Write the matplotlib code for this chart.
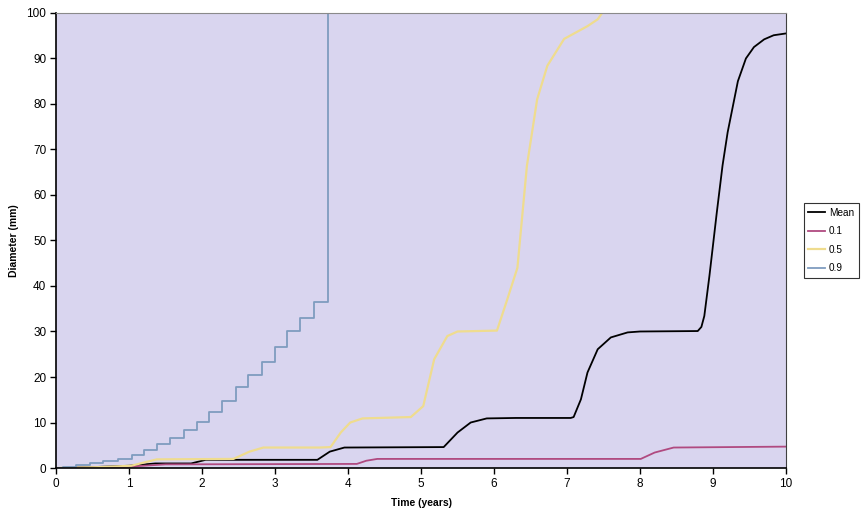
import matplotlib.pyplot as plt

# values (time in years, diameter in mm)
mean_t = [0, 0.5, 1.0, 1.36, 1.85, 2.05, 3.58, 3.75, 3.95, 5.31, 5.5, 5.68, 5.9, 6.3,
          7.05, 7.09, 7.19, 7.28, 7.42, 7.6, 7.83, 8.0, 8.79, 8.84, 8.88, 8.95, 9.05,
          9.13, 9.2, 9.34, 9.45, 9.56, 9.7, 9.83, 10.0]
mean_d = [0, 0.2, 0.5, 1.0, 1.0, 1.8, 1.8, 3.6, 4.5, 4.6, 7.8, 10.0, 10.9, 11.0,
          11.0, 11.2, 15.1, 21.0, 26.1, 28.7, 29.8, 30.0, 30.1, 31.0, 33.4, 42.2, 56.0,
          66.5, 73.8, 85.0, 90.0, 92.5, 94.2, 95.1, 95.5]

q10_t = [0, 0.5, 1.0, 1.5, 4.12, 4.25, 4.4, 8.01, 8.2, 8.46, 10.0]
q10_d = [0, 0.1, 0.3, 0.8, 0.9, 1.6, 2.0, 2.0, 3.4, 4.5, 4.7]

q50_t = [0, 0.6, 1.03, 1.38, 2.43, 2.65, 2.84, 3.62, 3.76, 3.9, 4.03, 4.2, 4.86, 5.03,
         5.18, 5.36, 5.5, 6.04, 6.18, 6.32, 6.45, 6.59, 6.73, 6.96, 7.28, 7.42, 7.48]
q50_d = [0, 0.2, 0.5, 1.9, 2.0, 3.6, 4.5, 4.5, 4.6, 7.8, 10.0, 10.9, 11.2, 13.6,
         23.9, 29.0, 30.0, 30.2, 37.0, 44.0, 66.4, 81.0, 88.4, 94.3, 97.1, 98.6, 100]

q90_t = [0, 0.1, 0.28, 0.47, 0.65, 0.85, 1.04, 1.2, 1.38, 1.56, 1.75, 1.93, 2.09,
         2.27, 2.47, 2.63, 2.82, 3.0, 3.16, 3.34, 3.54, 3.70, 3.72]
q90_d = [0, 0.2, 0.6, 1.0, 1.5, 2.0, 2.9, 3.9, 5.2, 6.5, 8.4, 10.1, 12.4,
         14.7, 17.7, 20.5, 23.4, 26.5, 30.0, 33.0, 36.5, 36.5, 100]

plt.rcParams['font.family'] = ['Liberation Sans', 'DejaVu Sans']

fig = plt.figure(figsize=(8.66, 5.18), dpi=100)
ax = fig.add_axes([0.0647, 0.0965, 0.843, 0.8785])
ax.set_facecolor('#d9d5ef')

ax.plot(mean_t, mean_d, color='black', lw=1.3, label='Mean')
ax.plot(q10_t, q10_d, color='#b04a80', lw=1.3, label='0.1')
ax.plot(q50_t, q50_d, color='#efdc8e', lw=1.6, label='0.5')
ax.step(q90_t, q90_d, where='post', color='#7f9cbf', lw=1.3, label='0.9')

ax.set_xlim(0, 10)
ax.set_ylim(0, 100)
ax.set_xticks(range(0, 11))
ax.set_yticks(range(0, 101, 10))
ax.tick_params(labelsize=8.5, length=4, width=1, direction='out', pad=3)
ax.set_xlabel('Time (years)', fontsize=7.5, fontweight='bold', labelpad=6)
ax.set_ylabel('Diameter (mm)', fontsize=7.5, fontweight='bold', labelpad=5)

for side in ['left', 'bottom']:
    ax.spines[side].set_color('black')
    ax.spines[side].set_linewidth(1.2)
ax.spines['top'].set_color('#8a8a8a')
ax.spines['right'].set_color('#404040')

leg = ax.legend(loc='center left', bbox_to_anchor=(1.024, 0.50), fontsize=7.2,
                frameon=True, fancybox=False, handlelength=1.7, borderpad=0.45,
                labelspacing=0.85, handletextpad=0.4, borderaxespad=0)
leg.get_frame().set_edgecolor('black')
leg.get_frame().set_linewidth(0.8)

fig.savefig('out.png', dpi=100, facecolor='white')
